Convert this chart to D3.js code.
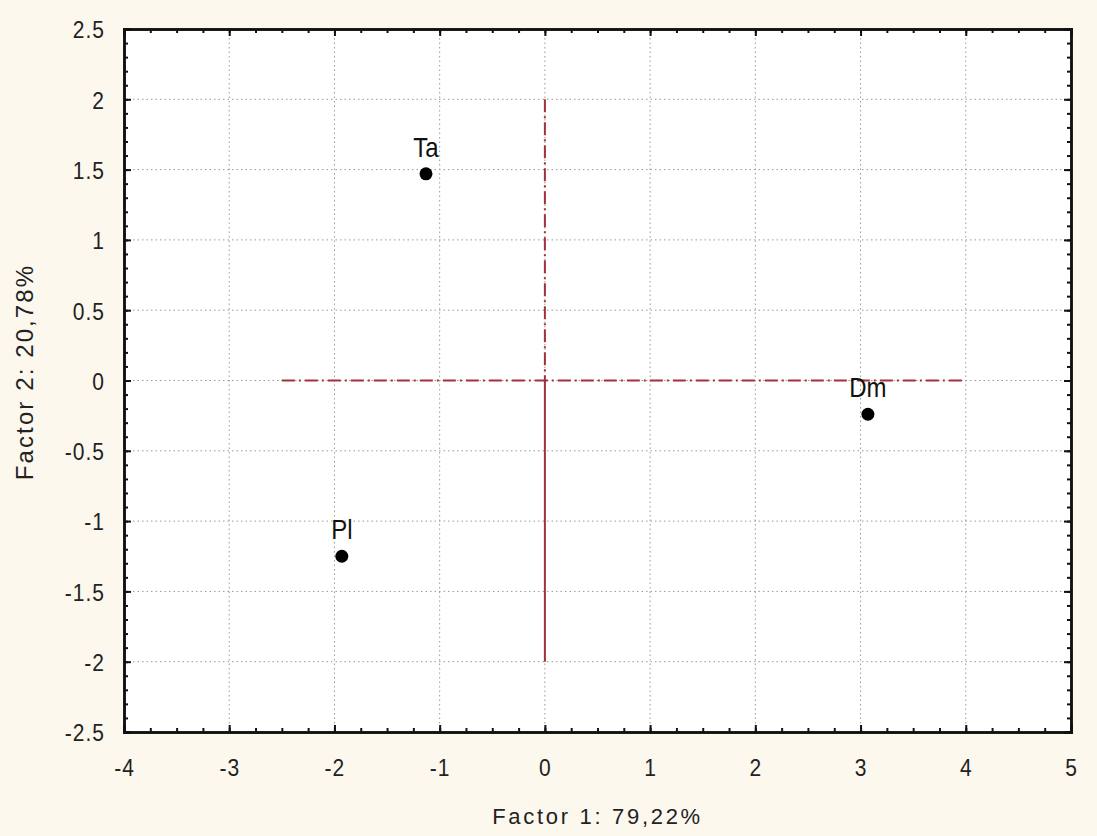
<!DOCTYPE html>
<html>
<head>
<meta charset="utf-8">
<script src="https://cdn.jsdelivr.net/npm/d3@7"></script>
<style>
  body { margin: 0; background: #fcf8ee; }
  svg { display: block; font-family: "Liberation Sans", Arial, sans-serif; }
</style>
</head>
<body>
<div id="chart"></div>
<script>
// factor scores
const labels = ["Ta", "Dm", "Pl"];
const factor1 = [-1.13, 3.07, -1.93];
const factor2 = [1.47, -0.24, -1.25];

const xTicks = [-4, -3, -2, -1, 0, 1, 2, 3, 4, 5];
const yTicks = [-2.5, -2, -1.5, -1, -0.5, 0, 0.5, 1, 1.5, 2, 2.5];

const width = 1097, height = 836;
const margin = {top: 29, right: 26, bottom: 104, left: 124};
const w = width - margin.left - margin.right;
const h = height - margin.top - margin.bottom;
const stretch = 1.17; // text in the original looks stretched vertically

const svg = d3.select("#chart").append("svg")
    .attr("width", width)
    .attr("height", height);

const g = svg.append("g")
    .attr("transform", "translate(" + margin.left + "," + margin.top + ")");

const x = d3.scaleLinear().domain([-4, 5]).range([0, w]);
const y = d3.scaleLinear().domain([-2.5, 2.5]).range([h, 0]);

g.append("rect").attr("width", w).attr("height", h).attr("fill", "#fff");

// dotted grid
g.selectAll(".gx").data(xTicks.slice(1, -1)).enter().append("line")
    .attr("x1", d => x(d)).attr("x2", d => x(d))
    .attr("y1", 0).attr("y2", h)
    .attr("stroke", "#999").attr("stroke-width", 1)
    .attr("stroke-dasharray", "1.5,3");
g.selectAll(".gy").data(yTicks.slice(1, -1)).enter().append("line")
    .attr("y1", d => y(d)).attr("y2", d => y(d))
    .attr("x1", 0).attr("x2", w)
    .attr("stroke", "#999").attr("stroke-width", 1)
    .attr("stroke-dasharray", "1.5,3");

// reference lines through origin
const red = "#a3313b";
g.append("line")
    .attr("x1", x(-2.5)).attr("x2", x(4)).attr("y1", y(0)).attr("y2", y(0))
    .attr("stroke", red).attr("stroke-width", 2)
    .attr("stroke-dasharray", "13,4,2,4");
g.append("line")
    .attr("x1", x(0)).attr("x2", x(0)).attr("y1", y(2)).attr("y2", y(0))
    .attr("stroke", red).attr("stroke-width", 2)
    .attr("stroke-dasharray", "13,4,2,4");
g.append("line")
    .attr("x1", x(0)).attr("x2", x(0)).attr("y1", y(0)).attr("y2", y(-2))
    .attr("stroke", red).attr("stroke-width", 2);

// axes, ticks pointing inward on all four sides
const xMinor = d3.range(-4, 5.001, 0.25);
const yMinor = d3.range(-2.5, 2.501, 0.1);
const fmt = d => String(d);

g.append("g").attr("transform", "translate(0," + h + ")")
    .call(d3.axisBottom(x).tickValues(xMinor).tickSize(-4).tickFormat(""));
g.append("g")
    .call(d3.axisTop(x).tickValues(xMinor).tickSize(-4).tickFormat(""));
g.append("g")
    .call(d3.axisLeft(y).tickValues(yMinor).tickSize(-4).tickFormat(""));
g.append("g").attr("transform", "translate(" + w + ",0)")
    .call(d3.axisRight(y).tickValues(yMinor).tickSize(-4).tickFormat(""));

const xAxis = g.append("g").attr("transform", "translate(0," + h + ")")
    .call(d3.axisBottom(x).tickValues(xTicks).tickSize(-7).tickFormat(fmt));
g.append("g")
    .call(d3.axisTop(x).tickValues(xTicks).tickSize(-7).tickFormat(""));
const yAxis = g.append("g")
    .call(d3.axisLeft(y).tickValues(yTicks).tickSize(-7).tickFormat(fmt));
g.append("g").attr("transform", "translate(" + w + ",0)")
    .call(d3.axisRight(y).tickValues(yTicks).tickSize(-7).tickFormat(""));

g.selectAll(".domain").attr("stroke", "#111").attr("stroke-width", 2.5);
g.selectAll(".tick line").attr("stroke", "#111").attr("stroke-width", 2);
g.selectAll(".tick text").attr("fill", "#222")
    .attr("font-size", 21)
    .attr("letter-spacing", 1)
    .attr("font-family", "Liberation Sans, Arial, sans-serif");

xAxis.selectAll(".tick text")
    .attr("x", 0).attr("y", 0).attr("dy", null)
    .attr("transform", "translate(0,44) scale(1," + stretch + ")");
yAxis.selectAll(".tick text")
    .attr("x", 0).attr("y", 0).attr("dy", "0.36em")
    .attr("transform", "translate(-19,0) scale(1," + stretch + ")");

// points and labels
const pts = labels.map((l, i) => ({label: l, fx: factor1[i], fy: factor2[i]}));
g.selectAll(".pt").data(pts).enter().append("circle")
    .attr("cx", d => x(d.fx)).attr("cy", d => y(d.fy)).attr("r", 6.5)
    .attr("fill", "#000");
g.selectAll(".lbl").data(pts).enter().append("text")
    .attr("transform", d => "translate(" + x(d.fx) + "," + (y(d.fy) - 17) + ") scale(1," + stretch + ")")
    .attr("text-anchor", "middle")
    .attr("fill", "#111").attr("font-size", 24)
    .text(d => d.label);

// axis titles
svg.append("text")
    .attr("x", margin.left + w / 2).attr("y", 824)
    .attr("text-anchor", "middle").attr("fill", "#222")
    .attr("font-size", 22).attr("letter-spacing", 2.7)
    .text("Factor 1: 79,22%");
svg.append("text")
    .attr("transform", "translate(33,372) rotate(-90)")
    .attr("text-anchor", "middle").attr("fill", "#222")
    .attr("font-size", 24).attr("letter-spacing", 2.1)
    .text("Factor 2: 20,78%");
</script>
</body>
</html>
